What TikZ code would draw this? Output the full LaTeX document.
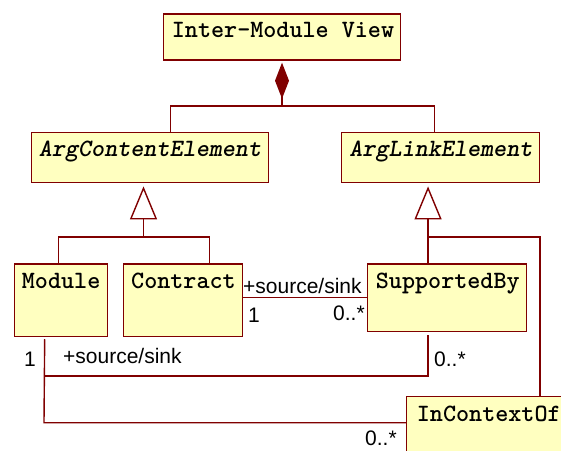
\documentclass[tikz,border=0pt]{standalone}
\usepackage{fontspec}
\setmainfont{Liberation Sans}
\usetikzlibrary{arrows.meta,calc}
\definecolor{umlred}{HTML}{800000}
\definecolor{umlfill}{HTML}{FFFFC0}
\begin{document}
\begin{tikzpicture}[x=1pt,y=-1pt,
  cls/.style={draw=umlred, fill=umlfill, line width=1.4pt, inner sep=0pt, anchor=north west},
  clsname/.style={anchor=base west, inner sep=0pt, font=\ttfamily\bfseries\fontsize{24.9pt}{26pt}\selectfont},
  absname/.style={anchor=base west, inner sep=0pt, font=\ttfamily\bfseries\slshape\fontsize{24.9pt}{26pt}\selectfont},
  link/.style={draw=umlred, line width=1.4pt},
  role/.style={anchor=base west, inner sep=0pt, font=\fontsize{21pt}{24pt}\selectfont},
  compose/.style={-{Diamond[length=36pt,width=14pt,fill=umlred]}, shorten >=2pt},
  inherit/.style={-{Triangle[length=33pt,width=27pt,fill=white]}, shorten >=3pt},
]
\useasboundingbox (0,0) rectangle (561,450);
\clip (0,0) rectangle (561,450);

% classes
\node[cls, minimum width=237pt, minimum height=46pt] (imv) at (163,13.3) {};
\node[clsname] (imvt) at ($(imv.north west)+(8.7,24)$) {Inter-Module View};

\node[cls, minimum width=237.3pt, minimum height=50.3pt] (ace) at (30.7,131.7) {};
\node[absname] (acet) at ($(ace.north west)+(8,24.3)$) {ArgContentElement};

\node[cls, minimum width=198.3pt, minimum height=50.3pt] (ale) at (340.7,131.7) {};
\node[absname] (alet) at ($(ale.north west)+(8.5,24.3)$) {ArgLinkElement};

\node[cls, minimum width=93pt, minimum height=72.7pt] (mod) at (13.7,263.3) {};
\node[clsname] (modt) at ($(mod.north west)+(8,24.7)$) {Module};

\node[cls, minimum width=119pt, minimum height=72.7pt] (con) at (123,263.3) {};
\node[clsname] (cont) at ($(con.north west)+(8,24.7)$) {Contract};

\node[cls, minimum width=158.7pt, minimum height=67.4pt] (sup) at (367,263.3) {};
\node[clsname] (supt) at ($(sup.north west)+(8.7,24.7)$) {SupportedBy};

\node[cls, minimum width=170pt, minimum height=80pt] (ico) at (406,395.7) {};
\node[clsname] (icot) at ($(ico.north west)+(10.7,26)$) {InContextOf};

% composition into the view
\coordinate (jc) at (282,106);
\draw[link] ([xshift=20.65pt]ace.north) |- (jc) -| ([xshift=-5.85pt]ale.north);
\draw[link, compose] (jc) -- (jc |- imv.south);

% generalisation of content elements
\coordinate (ga) at (143.5,237);
\draw[link] ([xshift=-2.2pt]mod.north) |- (ga) -| ([xshift=26.5pt]con.north);
\draw[link, inherit] (ga) -- (ga |- ace.south);

% generalisation of link elements
\coordinate (gl) at (427.35,237);
\draw[link, inherit] ([xshift=-19pt]sup.north) -- ([xshift=-19pt]sup.north |- ale.south);
\draw[link] (gl) -| ([xshift=134pt]ico.north west);

% associations
\draw[link] (sup.west) -- (sup.west -| con.east);
\coordinate (ma) at (44,376);
\coordinate (mi) at (44,422.7);
\draw[link, shorten <=2pt, shorten >=3pt] ([xshift=-16.2pt]mod.south) |- (ma) -| ([xshift=-19pt]sup.south);
\draw[link, shorten <=2pt] ([xshift=-16.2pt]mod.south) -- (mi) -- (mi -| ico.west);

% role names and multiplicities
\node[role] (r1) at (243,293) {+source/sink};
\node[role] (m1) at (248,322.7) {1};
\node[role] (m2) at (333,320.7) {0..*};
\node[role] (m3) at (24,366) {1};
\node[role] (r2) at (63,363.3) {+source/sink};
\node[role] (m4) at (434,366) {0..*};
\node[role] (m5) at (365,445) {0..*};
\end{tikzpicture}
\end{document}
